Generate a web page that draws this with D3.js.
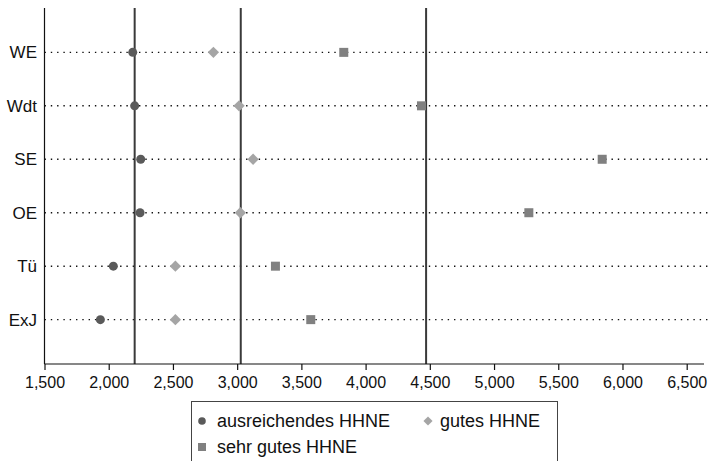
<!DOCTYPE html>
<html>
<head>
<meta charset="utf-8">
<script src="https://cdn.jsdelivr.net/npm/d3@7"></script>
<style>
  html, body { margin: 0; padding: 0; background: #fff; }
  svg { display: block; font-family: "Liberation Sans", Arial, sans-serif; }
</style>
</head>
<body>
<svg id="chart" width="709" height="461"></svg>
<script>
const categories = ["WE", "Wdt", "SE", "OE", "Tü", "ExJ"];
const ausreichend = [2187, 2202, 2249, 2244, 2036, 1935];
const gut = [2815, 3015, 3124, 3025, 2519, 2519];
const sehrGut = [3830, 4435, 5842, 5271, 3298, 3573];
const referenceLines = [2202, 3028, 4471];
const xTicks = [1500, 2000, 2500, 3000, 3500, 4000, 4500, 5000, 5500, 6000, 6500];
const seriesNames = ["ausreichendes HHNE", "gutes HHNE", "sehr gutes HHNE"];

(function () {
const svg = d3.select("#chart");
const mLeft = 44.5, mRight = 686.7, mTop = 8, mBottom = 364;

const x = d3.scaleLinear().domain([1500, 6500]).range([mLeft, mRight]);
const y = d3.scalePoint().domain(categories).range([mTop, mBottom]).padding(0.83);

// dotted horizontal lines
svg.append("g").selectAll("line").data(categories).join("line")
  .attr("x1", mLeft).attr("x2", 709)
  .attr("y1", d => y(d)).attr("y2", d => y(d))
  .attr("stroke", "#111").attr("stroke-width", 1.4)
  .attr("stroke-dasharray", "1.4,4.9");

// reference vertical lines
svg.append("g").selectAll("line").data(referenceLines).join("line")
  .attr("x1", d => x(d)).attr("x2", d => x(d))
  .attr("y1", mTop).attr("y2", mBottom)
  .attr("stroke", "#3a3a3a").attr("stroke-width", 2);

// left axis line
svg.append("line").attr("x1", mLeft).attr("x2", mLeft).attr("y1", mTop).attr("y2", mBottom)
  .attr("stroke", "#111").attr("stroke-width", 1.2);

// x axis
const xAxis = svg.append("g").attr("transform", `translate(0,${mBottom})`)
  .call(d3.axisBottom(x).tickValues(xTicks).tickSize(6).tickPadding(7)
    .tickFormat(d3.format(",")));
xAxis.select(".domain").remove();
xAxis.append("line").attr("x1", mLeft).attr("x2", 704).attr("y1", 0).attr("y2", 0)
  .attr("stroke", "#111").attr("stroke-width", 1.2);
xAxis.selectAll(".tick line").attr("stroke", "#111").attr("stroke-width", 1.2);
xAxis.selectAll(".tick text").attr("fill", "#111").style("font-size", "16px")
  .style("font-family", "'Liberation Sans', Arial, sans-serif");

// y labels
svg.append("g").selectAll("text").data(categories).join("text")
  .attr("x", 37).attr("y", d => y(d)).attr("dy", "0.35em")
  .attr("text-anchor", "end").attr("fill", "#111")
  .style("font-size", "17px").text(d => d);

const circleColor = "#5a5a5a", diamondColor = "#a5a5a5", squareColor = "#808080";
const diamond = d3.symbol().type(d3.symbolSquare).size(64);

// points
svg.append("g").selectAll("circle").data(categories).join("circle")
  .attr("cx", (d, i) => x(ausreichend[i])).attr("cy", d => y(d))
  .attr("r", 4.5).attr("fill", circleColor);

svg.append("g").selectAll("path").data(categories).join("path")
  .attr("d", diamond)
  .attr("transform", (d, i) => `translate(${x(gut[i])},${y(d)}) rotate(45)`)
  .attr("fill", diamondColor);

svg.append("g").selectAll("rect").data(categories).join("rect")
  .attr("x", (d, i) => x(sehrGut[i]) - 4.5).attr("y", d => y(d) - 4.5)
  .attr("width", 9).attr("height", 9).attr("fill", squareColor);

// legend
const lg = svg.append("g");
lg.append("rect").attr("x", 191.5).attr("y", 401.5).attr("width", 366).attr("height", 70)
  .attr("fill", "#fff").attr("stroke", "#444").attr("stroke-width", 1);
const legendItems = [
  {name: seriesNames[0], type: "circle", color: circleColor, mx: 202, tx: 217, ty: 421},
  {name: seriesNames[1], type: "diamond", color: diamondColor, mx: 428, tx: 440, ty: 421},
  {name: seriesNames[2], type: "square", color: squareColor, mx: 202, tx: 217, ty: 447}
];
legendItems.forEach(it => {
  if (it.type === "circle") {
    lg.append("circle").attr("cx", it.mx).attr("cy", it.ty).attr("r", 3.8).attr("fill", it.color);
  } else if (it.type === "diamond") {
    lg.append("path").attr("d", d3.symbol().type(d3.symbolSquare).size(42))
      .attr("transform", `translate(${it.mx},${it.ty}) rotate(45)`).attr("fill", it.color);
  } else {
    lg.append("rect").attr("x", it.mx - 4).attr("y", it.ty - 4).attr("width", 8).attr("height", 8)
      .attr("fill", it.color);
  }
  lg.append("text").attr("x", it.tx).attr("y", it.ty).attr("dy", "0.35em")
    .attr("fill", "#111").style("font-size", "18px").text(it.name);
});
})();
</script>
</body>
</html>
